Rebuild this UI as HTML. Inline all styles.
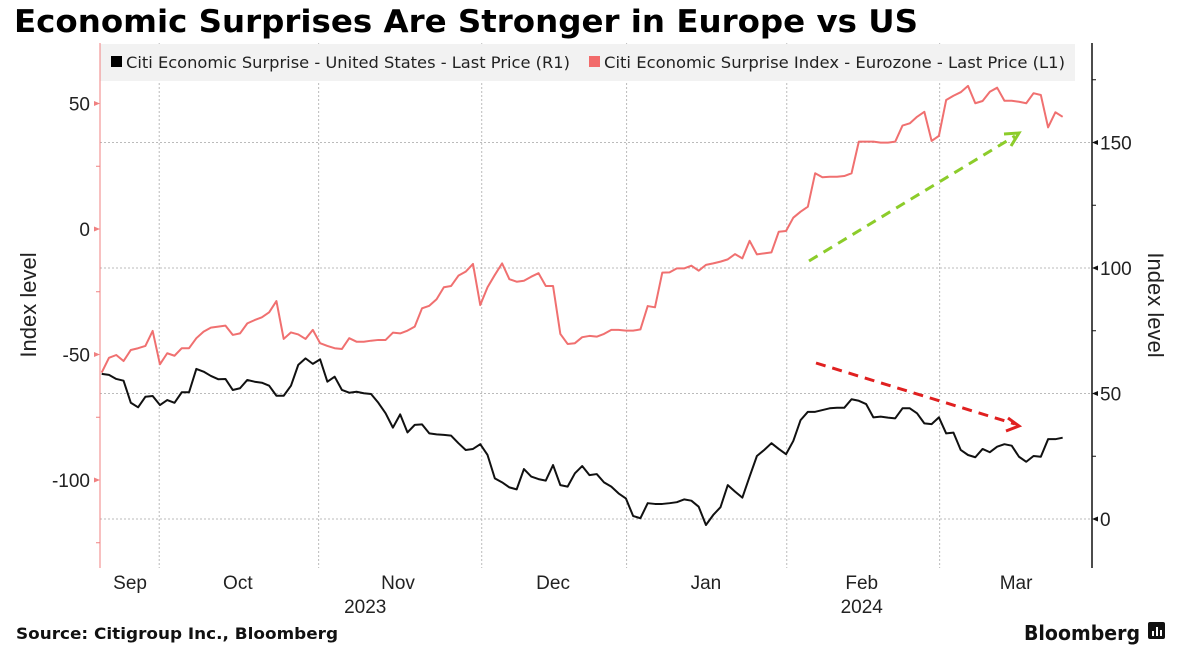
<!DOCTYPE html>
<html><head><meta charset="utf-8"><style>
body{margin:0;background:#fff;}
svg{display:block;font-family:"Liberation Sans","DejaVu Sans",sans-serif;}
</style></head><body>
<svg id="chart" width="1179" height="651" viewBox="0 0 1179 651">
<text x="14" y="32" font-size="31" font-weight="bold" fill="#000" font-family="DejaVu Sans, sans-serif" textLength="904" lengthAdjust="spacingAndGlyphs">Economic Surprises Are Stronger in Europe vs US</text>
<g id="grid"></g>
<rect x="100" y="44" width="975" height="37" fill="#f2f2f2"/>
<g><rect x="111" y="56" width="11" height="11" fill="#000"/><text x="126" y="68" font-size="16" fill="#222" font-family="DejaVu Sans, sans-serif" textLength="444" lengthAdjust="spacingAndGlyphs">Citi Economic Surprise - United States - Last Price (R1)</text></g>
<g><rect x="589" y="56" width="11" height="11" fill="#f26b6b"/><text x="604" y="68" font-size="16" fill="#222" font-family="DejaVu Sans, sans-serif" textLength="461" lengthAdjust="spacingAndGlyphs">Citi Economic Surprise Index - Eurozone - Last Price (L1)</text></g>
<g id="axes"></g>
<g id="series"></g>
<text transform="translate(36,305) rotate(-90)" text-anchor="middle" font-size="22" fill="#222">Index level</text>
<text transform="translate(1148,305) rotate(90)" text-anchor="middle" font-size="22" fill="#222">Index level</text>
<text x="16" y="639" font-size="16" font-weight="bold" fill="#111" font-family="DejaVu Sans, sans-serif" textLength="322" lengthAdjust="spacingAndGlyphs">Source: Citigroup Inc., Bloomberg</text>
<g><text x="1024" y="640" font-size="20" font-weight="bold" fill="#111" font-family="DejaVu Sans, sans-serif" textLength="116" lengthAdjust="spacingAndGlyphs">Bloomberg</text><rect x="1148" y="622" width="17" height="17" rx="2" fill="#111"/><rect x="1152" y="631" width="2" height="5" fill="#fff"/><rect x="1156" y="627" width="2" height="9" fill="#fff"/><rect x="1160" y="630" width="2" height="6" fill="#fff"/></g>
</svg>
<script>
const usValues=[57.8,57.4,55.8,55.1,46.3,44.5,48.7,49.0,45.4,47.4,46.3,50.5,50.5,59.8,58.7,57.0,55.7,55.8,51.4,52.1,55.4,54.7,54.3,53.1,49.1,49.1,53.1,61.4,64.0,61.8,63.6,54.7,56.7,51.4,50.3,50.7,50.1,49.8,46.3,42.1,36.4,41.7,34.5,37.5,37.7,34.1,33.7,33.5,33.2,30.2,27.5,27.9,29.8,25.5,16.2,
14.6,12.6,11.8,19.9,16.9,15.9,15.3,21.5,13.5,12.9,18.2,21.1,17.5,17.9,14.6,12.9,10.2,8.2,1.2,0.3,6.3,6.0,6.0,6.3,6.7,7.8,7.3,4.9,-2.4,1.6,4.7,13.5,10.9,8.5,16.9,25.1,27.5,30.2,27.9,25.8,31.1,39.4,42.7,42.7,
43.4,44.1,44.3,44.3,47.7,47.1,45.8,40.5,40.8,40.4,40.1,44.1,44.1,42.1,38.1,37.8,40.5,34.1,34.4,27.5,25.5,24.6,27.9,26.6,28.8,29.8,29.2,24.8,22.8,25.1,24.8,31.8,31.8,32.4];
const euValues=[-57.2,-51.3,-50.2,-52.6,-48.2,-47.5,-46.6,-40.6,-53.9,-49.5,-50.5,-47.5,-47.5,-43.5,-40.9,-39.3,-38.9,-38.5,-42.2,-41.6,-37.6,-36.3,-35.2,-33.2,-28.7,-43.8,-41.2,-42.0,-43.8,-40.2,-45.5,-46.6,-47.5,-47.8,-43.5,-44.9,-44.9,-44.5,-44.2,-44.2,-41.3,-41.6,-40.5,-38.9,-31.6,-30.6,-28.0,-23.2,-22.7,-18.6,-17.0,-13.9,-30.3,-23.2,-18.3,
-13.7,-20.0,-21.0,-20.6,-19.0,-17.6,-22.7,-22.7,-41.8,-45.8,-45.5,-43.1,-42.6,-42.9,-41.8,-40.2,-40.2,-40.5,-40.5,-40.0,-30.7,-31.2,-17.4,-17.3,-15.7,-15.7,-14.6,-16.6,-14.3,-13.7,-13.0,-12.1,-10.0,-11.7,-4.7,-10.1,-9.7,-9.3,-1.1,-0.8,
4.5,6.9,8.9,22.2,20.6,20.8,20.8,21.1,22.2,34.8,34.8,34.8,34.4,34.4,34.8,41.2,42.1,44.7,46.7,35.1,37.1,51.4,53.1,54.5,57.0,50.1,51.0,54.7,56.3,51.1,51.1,50.7,50.1,54.1,53.4,40.5,46.5,44.7];
const leftTicks=[50,0,-50,-100];
const leftMinor=[25,-25,-75,-125];
const rightTicks=[150,100,50,0];
const monthStarts=[7.9,29.8,52.2,72.1,94.1,115.1];
const monthLabels=["Sep","Oct","Nov","Dec","Jan","Feb","Mar"];
const monthCenters=[3.9,18.7,40.7,62,83,104.4,125.6];
const yearLabels=["2023","2024"];
const yearCenters=[36.2,104.4];

const NS="http://www.w3.org/2000/svg";
const X0=101.7,STEP=7.28,PX=2.51;
const xs=i=>X0+i*STEP;
const yL=v=>229-v*PX;
const yR=v=>519-v*PX;
function mk(tag,attrs,parent){const e=document.createElementNS(NS,tag);for(const k in attrs)e.setAttribute(k,attrs[k]);parent.appendChild(e);return e;}
const grid=document.getElementById('grid'),axes=document.getElementById('axes'),series=document.getElementById('series');
rightTicks.forEach(v=>{const l=mk('line',{x1:100,x2:1092,y1:yR(v),y2:yR(v),stroke:'#bbb','stroke-width':1,'stroke-dasharray':'2,2'},grid);

});
monthStarts.forEach(m=>{const l=mk('line',{x1:xs(m),x2:xs(m),y1:43,y2:568,stroke:'#bbb','stroke-width':1,'stroke-dasharray':'2,2'},grid);

});
mk('line',{x1:100,x2:100,y1:43,y2:568,stroke:'#f08080','stroke-width':1},axes);
mk('line',{x1:1092,x2:1092,y1:43,y2:568,stroke:'#111','stroke-width':1.5},axes);
leftTicks.forEach(v=>{mk('path',{d:`M100 ${yL(v)} l-6 -2.5 v5 z`,fill:'#f08080'},axes);
const t=mk('text',{x:90,y:yL(v)+7,'text-anchor':'end','font-size':19,fill:'#222'},axes);t.textContent=v;

});
leftMinor.forEach(v=>mk('line',{x1:96,x2:100,y1:yL(v),y2:yL(v),stroke:'#f08080'},axes));
rightTicks.forEach(v=>{mk('path',{d:`M1092 ${yR(v)} l6 -2.5 v5 z`,fill:'#111'},axes);
const t=mk('text',{x:1100,y:yR(v)+7,'font-size':19,fill:'#222'},axes);t.textContent=v;

});
[175,125,75,25].forEach(v=>mk('line',{x1:1092,x2:1096,y1:yR(v),y2:yR(v),stroke:'#111'},axes));
monthLabels.forEach((m,i)=>{const t=mk('text',{x:xs(monthCenters[i]),y:589,'text-anchor':'middle','font-size':19,fill:'#222'},axes);t.textContent=m;

});
yearLabels.forEach((y,i)=>{const t=mk('text',{x:xs(yearCenters[i]),y:613,'text-anchor':'middle','font-size':19,fill:'#222'},axes);t.textContent=y;

});
const eu=mk('polyline',{points:euValues.map((v,i)=>xs(i)+','+yL(v)).join(' '),fill:'none',stroke:'#f07070','stroke-width':2,'stroke-linejoin':'round'},series);


const us=mk('polyline',{points:usValues.map((v,i)=>xs(i)+','+yR(v)).join(' '),fill:'none',stroke:'#111','stroke-width':2,'stroke-linejoin':'round'},series);


const g1=mk('g',{},series);


mk('line',{x1:809,y1:261,x2:1015,y2:136,stroke:'#8ccc2a','stroke-width':3,'stroke-dasharray':'10,7'},g1);
mk('path',{d:'M1004 134 L1019 133 L1011 146',fill:'none',stroke:'#8ccc2a','stroke-width':3},g1);
const g2=mk('g',{},series);


mk('line',{x1:816,y1:363,x2:1015,y2:424,stroke:'#e02020','stroke-width':3,'stroke-dasharray':'10,7'},g2);
mk('path',{d:'M1008 418 L1019 426 L1006 431',fill:'none',stroke:'#e02020','stroke-width':3},g2);
</script>
</body></html>
